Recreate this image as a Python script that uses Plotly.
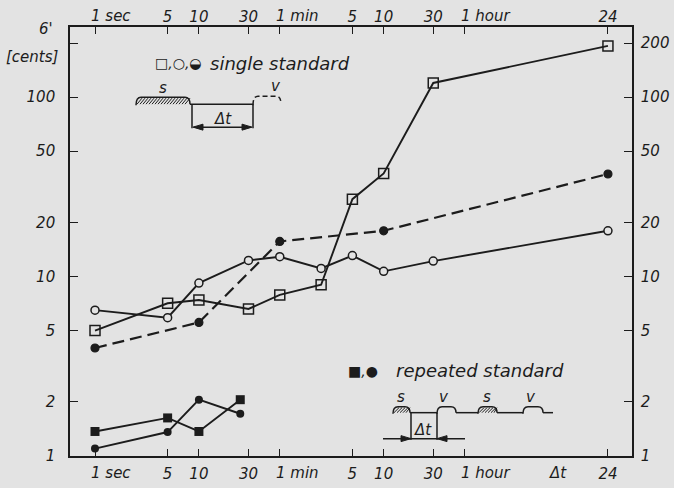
import math
import plotly.graph_objects as go

# ---------------- data ----------------
t_single = [1, 5, 10, 30, 60, 150, 300, 600, 1800, 86400]          # seconds
single_squares = [5.0, 7.1, 7.4, 6.6, 7.9, 9.0, 27, 37.6, 120, 193]  # cents
single_circles = [6.5, 5.9, 9.2, 12.3, 12.9, 11.1, 13.1, 10.7, 12.2, 18.0]
t_dashed = [1, 10, 60, 600, 86400]
single_half = [4.0, 5.55, 15.7, 18.0, 37.3]
t_repeated = [1, 5, 10, 25]
repeated_squares = [1.37, 1.63, 1.37, 2.06]
repeated_circles = [1.1, 1.36, 2.06, 1.72]

x_tickvals = [1, 5, 10, 30, 60, 300, 600, 1800, 3600, 86400]
x_ticktext = ["", "5", "10", "30", "", "5", "10", "30", "", "24"]
x_unit_ticks = [1, 60, 3600]
x_unit_text = ["1 sec", "1 min", "1 hour"]
y_tickvals = [1, 2, 5, 10, 20, 50, 100, 200]
y_left_text = ["1", "2", "5", "10", "20", "50", "100", ""]
y_right_text = ["1", "2", "5", "10", "20", "50", "100", "200"]

# ---------------- geometry ----------------
W, H = 674, 488
L, R, T, B = 70, 632, 26.7, 456.4
x_range = [-0.2406, 5.168]
y_range = [0, 2.391]

INK = "#1c1c1c"
BG = "#e3e3e3"
FONT = dict(family="DejaVu Sans", size=15, color=INK, style="italic")

fig = go.Figure()

line_style = dict(color=INK, width=1.9)
fig.add_trace(go.Scatter(x=t_single, y=single_squares, mode="lines+markers",
                         line=line_style,
                         marker=dict(symbol="square-open", size=10, color=INK,
                                     line=dict(width=1.5, color=INK))))
fig.add_trace(go.Scatter(x=t_single, y=single_circles, mode="lines+markers",
                         line=line_style,
                         marker=dict(symbol="circle", size=8, color=BG,
                                     line=dict(width=1.5, color=INK))))
fig.add_trace(go.Scatter(x=t_dashed, y=single_half, mode="lines+markers",
                         line=dict(color=INK, width=2.2, dash="12px,6px"),
                         marker=dict(symbol="circle", size=8, color=INK,
                                     line=dict(width=1.2, color=INK))))
fig.add_trace(go.Scatter(x=t_repeated, y=repeated_squares, mode="lines+markers",
                         line=line_style,
                         marker=dict(symbol="square", size=9, color=INK)))
fig.add_trace(go.Scatter(x=t_repeated, y=repeated_circles, mode="lines+markers",
                         line=line_style,
                         marker=dict(symbol="circle", size=8, color=INK)))
# carrier trace for the top / right axes
fig.add_trace(go.Scatter(x=[1], y=[1], xaxis="x2", yaxis="y2", mode="markers",
                         marker=dict(opacity=0), hoverinfo="skip"))

axis_common = dict(showline=True, linecolor=INK, linewidth=1.6, showgrid=False,
                   zeroline=False, ticks="inside", tickcolor=INK, tickwidth=1.4,
                   tickfont=FONT, automargin=False, tickangle=0)
fig.update_layout(
    width=W, height=H, showlegend=False,
    paper_bgcolor=BG, plot_bgcolor=BG,
    margin=dict(l=L, r=W - R, t=T, b=H - B, pad=0, autoexpand=False),
    xaxis=dict(type="log", range=x_range, tickvals=x_tickvals, ticktext=x_ticktext,
               ticklen=7, ticklabelstandoff=3, **axis_common),
    xaxis2=dict(type="log", range=x_range, tickvals=x_tickvals, ticktext=x_ticktext,
                overlaying="x", side="top", anchor="y", ticklen=7,
                ticklabelstandoff=-3, **axis_common),
    yaxis=dict(type="log", range=y_range, tickvals=y_tickvals, ticktext=y_left_text,
               ticklen=8, ticklabelstandoff=10, **axis_common),
    yaxis2=dict(type="log", range=y_range, tickvals=y_tickvals, ticktext=y_right_text,
                overlaying="y", side="right", anchor="x", ticklen=8,
                ticklabelstandoff=4, **axis_common),
)


# ---------------- decorations (pixel -> paper) ----------------
def P(px, py):
    return (px - L) / (R - L), (B - py) / (B - T)


def path(cmds):
    out = []
    for c in cmds:
        if c[0] == "Z":
            out.append("Z")
            continue
        op, pts = c[0], c[1:]
        s = op
        for i in range(0, len(pts), 2):
            x, y = P(pts[i], pts[i + 1])
            s += f" {x:.5f},{y:.5f}"
        out.append(s)
    return " ".join(out)


shapes = []


def add_path(cmds, width=1.5, dash=None, fill=None):
    d = dict(type="path", xref="paper", yref="paper", path=path(cmds),
             line=dict(color=INK, width=width))
    if dash:
        d["line"]["dash"] = dash
    if fill:
        d["fillcolor"] = fill
    shapes.append(d)


def bump(x0, x1, yt, yb, dash=None):
    add_path([("M", x0, yb + 1), ("Q", x0, yt, x0 + 5, yt), ("L", x1 - 5, yt),
              ("Q", x1, yt, x1, yb)], dash=dash)


def hatched(x0, x1, yt, yb):
    bump(x0, x1, yt, yb)
    cmds = []
    x = x0 + 1
    while x < x1 - 2:
        cmds += [("M", x, yb), ("L", min(x + 5, x1), yt + 1)]
        x += 3
    add_path(cmds, width=1.0)


def arrow_head(tip_x, y, direction):
    back = tip_x - 10 * direction
    add_path([("M", tip_x, y), ("L", back, y - 3), ("L", back, y + 3), "Z"],
             width=1, fill=INK)


# single-standard sketch
hatched(136, 190, 97, 104)
add_path([("M", 190, 104), ("L", 253, 104)])
add_path([("M", 192, 104), ("L", 192, 128)])
add_path([("M", 253, 104), ("L", 253, 128)])
bump(253, 281, 96, 104, dash="5px,3px")
add_path([("M", 194, 127), ("L", 251, 127)])
arrow_head(193, 127, -1)
arrow_head(252, 127, 1)

# repeated-standard sketch
hatched(393, 410, 407, 413)
bump(437, 456, 407, 413)
hatched(478, 497, 407, 413)
bump(523, 543, 407, 413)
add_path([("M", 410, 413), ("L", 437, 413)])
add_path([("M", 456, 413), ("L", 478, 413)])
add_path([("M", 497, 413), ("L", 523, 413)])
add_path([("M", 543, 413), ("L", 553, 413)])
add_path([("M", 411, 413), ("L", 411, 440)])
add_path([("M", 437, 413), ("L", 437, 440)])
add_path([("M", 383, 439), ("L", 465, 439)])
arrow_head(411, 439, 1)
arrow_head(437, 439, -1)

fig.update_layout(shapes=shapes)

# ---------------- text ----------------
TF = dict(family="DejaVu Sans", size=16, color=INK, style="italic")


def text(px, py, s, anchor="center", size=16):
    x, y = P(px, py)
    fig.add_annotation(x=x, y=y, xref="paper", yref="paper", text=s, showarrow=False,
                       xanchor=anchor, yanchor="middle",
                       font=dict(TF, size=size))


# "1 sec / 1 min / 1 hour" labels: the "1" sits on the tick, the unit runs to the right
for tv, lab in zip(x_unit_ticks, x_unit_text):
    fig.add_annotation(x=math.log10(tv), y=1, xref="x", yref="paper",
                       yshift=11, text=lab, showarrow=False, xanchor="left",
                       xshift=-6, yanchor="middle", font=FONT)
    fig.add_annotation(x=math.log10(tv), y=0, xref="x", yref="paper",
                       yshift=-17, text=lab, showarrow=False, xanchor="left",
                       xshift=-6, yanchor="middle", font=FONT)

text(55, 29, "6'", anchor="right", size=15)
text(61, 57, "[cents]", anchor="right", size=15)
text(153, 63, "\u25a1,\u25cb,\u25d2", anchor="left", size=14)
text(208, 63, "single standard", anchor="left", size=18)
text(163, 88, "s", size=15)
text(276, 86, "v", size=15)
text(223, 119, "\u0394t", size=15)

text(346, 371, "\u25a0,\u25cf", anchor="left", size=14)
text(394, 371, "repeated standard", anchor="left", size=18)
text(401, 397, "s", size=15)
text(444, 397, "v", size=15)
text(487, 397, "s", size=15)
text(531, 397, "v", size=15)
text(423, 430, "\u0394t", size=15)

text(558, 473, "\u0394t", size=15)

fig.write_html("out.html", config={"displayModeBar": False},
               post_script="document.body.style.margin='0';")
